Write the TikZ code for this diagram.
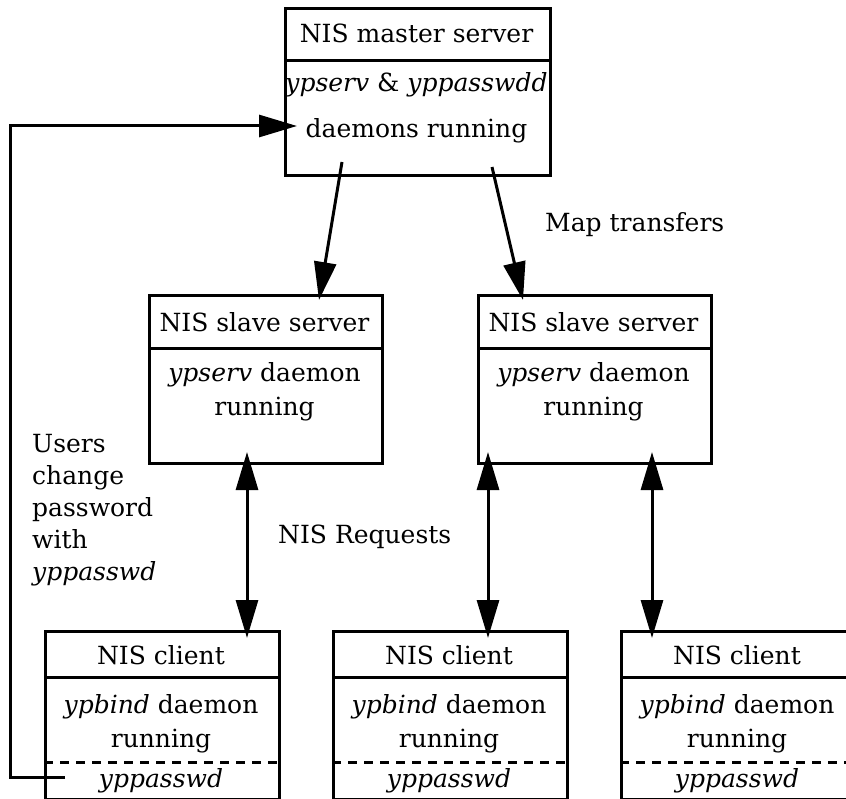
\documentclass[tikz,border=0pt]{standalone}
\usepackage{fontspec}
\setmainfont{DejaVu Serif}
\usetikzlibrary{arrows.meta}
\begin{document}
\begin{tikzpicture}[x=1pt,y=-1pt,
  box/.style={draw, rectangle, line width=3pt, inner sep=0pt, anchor=north west},
  srvbox/.style={box, minimum width=233pt, minimum height=168pt},
  clibox/.style={box, minimum width=234pt, minimum height=168pt},
  txt/.style={inner sep=0pt, anchor=base, font=\fontsize{25}{32}\selectfont},
  lbl/.style={inner sep=0pt, anchor=base west, font=\fontsize{25}{32}\selectfont},
  divider/.style={line width=3pt},
  dsh/.style={line width=3pt, dash pattern=on 9pt off 7pt},
  arr/.style={line width=3pt, line join=miter, -{Triangle[length=38pt,width=22pt]}},
  dbl/.style={line width=3pt, {Triangle[length=38pt,width=22pt]}-{Triangle[length=38pt,width=22pt]}}
]
\clip (0,0) rectangle (846,799);

% master
\node[box, minimum width=265pt, minimum height=167pt] (master) at (284,7) {};
\draw[divider] (master.west |- 0,61) -- (master.east |- 0,61);
\node[txt] (mt) at (416.5,43) {NIS master server};
\node[txt] (mb1) at (416.5,92) {\textit{ypserv} \& \textit{yppasswdd}};
\node[txt] (mb2) at (416.5,138) {daemons running};

% slaves
\foreach \n/\x in {s1/148, s2/477}{
  \node[srvbox] (\n) at (\x,294) {};
  \draw[divider] (\n.west |- 0,349) -- (\n.east |- 0,349);
  \node[txt] (\n t) at (\x+116.5,332) {NIS slave server};
  \node[txt] (\n a) at (\x+116.5,382) {\textit{ypserv} daemon};
  \node[txt] (\n b) at (\x+116.5,415) {running};
}

% clients
\foreach \n/\x in {c1/44, c2/332, c3/620}{
  \node[clibox] (\n) at (\x,630) {};
  \draw[divider] (\n.west |- 0,677) -- (\n.east |- 0,677);
  \draw[dsh] (\n.west |- 0,762) -- (\n.east |- 0,762);
  \node[txt] (\n t) at (\x+117,664) {NIS client};
  \node[txt] (\n a) at (\x+117,713) {\textit{ypbind} daemon};
  \node[txt] (\n b) at (\x+117,747) {running};
  \node[txt] (\n c) at (\x+117,787) {\textit{yppasswd}};
}

% labels
\node[lbl] (maptr) at (545,232) {Map transfers};
\node[lbl] (nisreq) at (278,543) {NIS Requests};
\node[inner sep=0pt, anchor=north west, align=left, font=\fontsize{25}{32}\selectfont]
  (users) at (32,434) {Users\\change\\password\\with\\\textit{yppasswd}};

% connector end points
\coordinate (m1) at (342,162);
\coordinate (s1in) at (319,300);
\coordinate (m2) at (492,167);
\coordinate (s2in) at (523,300);
\coordinate (s1b) at (247,452);
\coordinate (c1a) at (247,638);
\coordinate (s2b) at (488,452);
\coordinate (c2a) at (488,638);
\coordinate (s2c) at (652,452);
\coordinate (c3a) at (652,638);
\coordinate (fb0) at (65,777);
\coordinate (fb1) at (10,777);
\coordinate (fb2) at (10,126);
\coordinate (fb3) at (297,126);

\draw[arr] (m1) -- (s1in);
\draw[arr] (m2) -- (s2in);
\draw[dbl] (s1b) -- (c1a);
\draw[dbl] (s2b) -- (c2a);
\draw[dbl] (s2c) -- (c3a);
\draw[arr] (fb0) -- (fb1) -- (fb2) -- (fb3);
\end{tikzpicture}
\end{document}
